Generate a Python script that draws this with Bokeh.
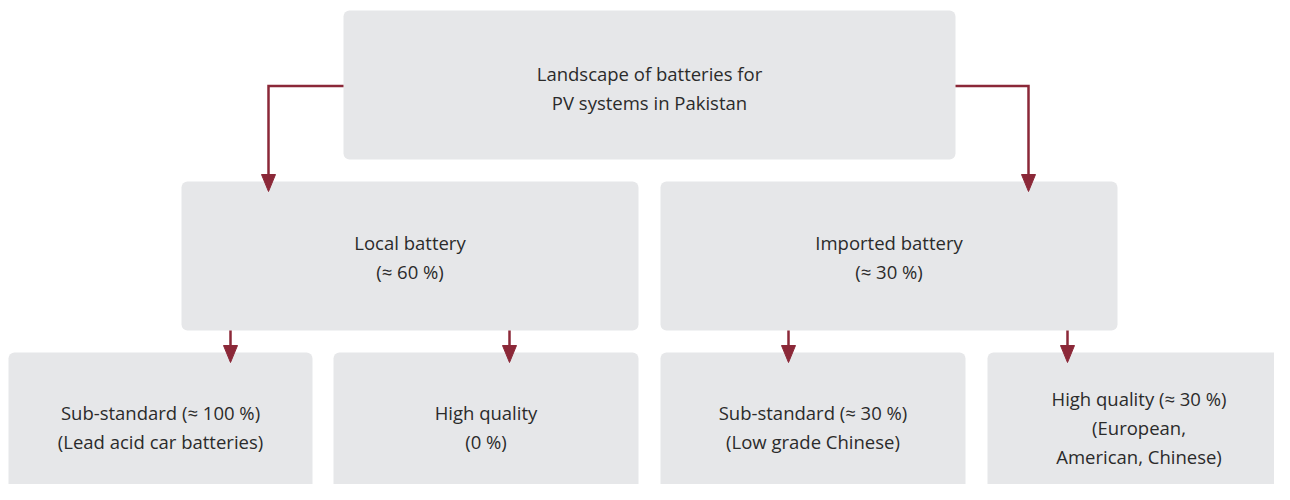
from bokeh.plotting import figure
from bokeh.models import Range1d, ColumnDataSource
from bokeh.core.properties import value
from bokeh.embed import file_html
from bokeh.resources import INLINE

# ---- content ----
labels = [
    ["Landscape of batteries for", "PV systems in Pakistan"],
    ["Local battery", "(≈ 60 %)"],
    ["Imported battery", "(≈ 30 %)"],
    ["Sub-standard (≈ 100 %)", "(Lead acid car batteries)"],
    ["High quality", "(0 %)"],
    ["Sub-standard (≈ 30 %)", "(Low grade Chinese)"],
    ["High quality (≈ 30 %)", "(European,", "American, Chinese)"],
]
parents = [None, 0, 0, 1, 1, 2, 2]

# ---- layout (pixels) ----
box_left = [343, 181, 660, 8, 333, 660, 987]
box_right = [955, 638, 1117, 312, 638, 965, 1300]
box_top = [10, 181, 181, 352, 352, 352, 352]
box_bottom = [159, 330, 330, 510, 510, 510, 510]
arrow_x = [None, 268, 1028, 230, 509, 788, 1067]
text_y0 = [73, 242, 242, 412, 412, 412, 398]
line_gap = 29

BOX = "#e6e7e9"
RED = "#8b2838"
TXT = "#2b2b2b"
HEAD_L, HEAD_W = 17, 7

W, H = 1274, 484
p = figure(width=W, height=H, output_backend="svg", toolbar_location=None,
           x_range=Range1d(0, W), y_range=Range1d(H, 0), min_border=0)
p.axis.visible = False
p.grid.visible = False
p.outline_line_color = None
p.background_fill_color = "white"
p.border_fill_color = "white"

p.quad(left=box_left, right=box_right, top=box_top, bottom=box_bottom,
       fill_color=BOX, line_color=None, border_radius=6)

xs_lines, ys_lines, xs_heads, ys_heads = [], [], [], []
for i, par in enumerate(parents):
    if par is None:
        continue
    ax = arrow_x[i]
    tip = box_top[i] + 10
    if par == 0:
        ymid = (box_top[par] + box_bottom[par]) / 2 + 1
        sx = box_left[par] if ax < box_left[par] else box_right[par]
        xs_lines.append([sx, ax, ax])
        ys_lines.append([ymid, ymid, tip - HEAD_L + 1])
    else:
        xs_lines.append([ax, ax])
        ys_lines.append([box_bottom[par], tip - HEAD_L + 1])
    xs_heads.append([ax - HEAD_W, ax + HEAD_W, ax])
    ys_heads.append([tip - HEAD_L, tip - HEAD_L, tip])

p.multi_line(xs_lines, ys_lines, line_color=RED, line_width=2.5, line_join="miter")
p.patches(xs_heads, ys_heads, fill_color=RED, line_color=RED, line_width=1)

tx, ty, tt = [], [], []
for i, lines in enumerate(labels):
    cx = (box_left[i] + min(box_right[i], 1290)) / 2
    for k, s in enumerate(lines):
        tx.append(cx)
        ty.append(text_y0[i] + k * line_gap)
        tt.append(s)
src = ColumnDataSource(dict(x=tx, y=ty, t=tt))
p.text(x="x", y="y", text="t", source=src, text_align="center", text_baseline="middle",
       text_font=value("Open Sans"), text_font_size="18.5px", text_color=TXT)

open("out.html", "w").write(file_html(p, INLINE))
